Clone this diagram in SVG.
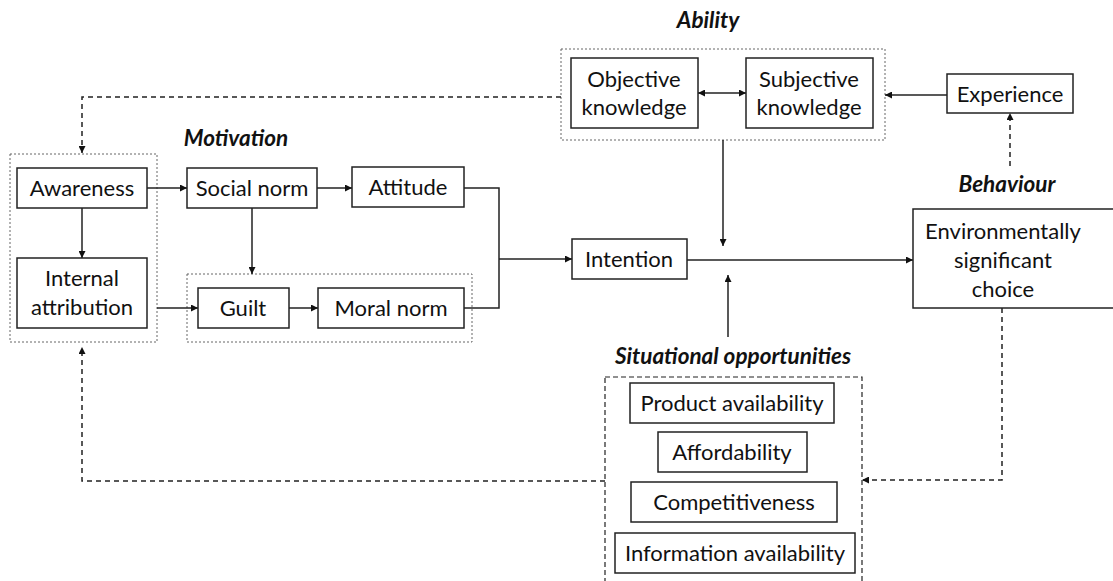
<svg xmlns="http://www.w3.org/2000/svg" width="1113" height="581" viewBox="0 0 1113 581">
  <defs>
    <marker id="arr" viewBox="0 0 10 10" refX="10" refY="5" markerWidth="7" markerHeight="7" markerUnits="userSpaceOnUse" orient="auto-start-reverse">
      <path d="M0,0 L10,5 L0,10 z" fill="#111"/>
    </marker>
    <style>
      .box { fill: #fff; stroke: #222; stroke-width: 1.5; }
      .group { fill: none; stroke: #666; stroke-width: 1; stroke-dasharray: 2 2; }
      .sgroup { fill: none; stroke: #222; stroke-width: 1.2; stroke-dasharray: 5 3; }
      .t { font-family: Lato, "Liberation Sans", sans-serif; font-size: 22px; fill: #111; text-anchor: middle; }
      .h { font-family: Lato, "Liberation Sans", sans-serif; font-size: 22.5px; font-weight: bold; font-style: italic; fill: #111; text-anchor: middle; }
      .line { fill: none; stroke: #222; stroke-width: 1.5; }
      .dash { fill: none; stroke: #222; stroke-width: 1.5; stroke-dasharray: 5 4; }
    </style>
  </defs>
  <rect width="1113" height="581" fill="#fff"/>

  <!-- group frames and headings -->
  <g id="motivation-group">
    <rect class="group" x="10" y="154" width="147" height="188"/>
    <rect class="group" x="187" y="274" width="285" height="68"/>
    <text class="h" x="236" y="146">Motivation</text>
  </g>
  <g id="ability-group">
    <rect class="group" x="561" y="49" width="324" height="91"/>
    <text class="h" x="708" y="28">Ability</text>
  </g>
  <g id="situational-group">
    <rect class="sgroup" x="605" y="377" width="257" height="210"/>
    <text class="h" x="733" y="364">Situational opportunities</text>
  </g>
  <g id="behaviour-heading">
    <text class="h" x="1007" y="192">Behaviour</text>
  </g>

  <!-- connectors -->
  <g id="connectors">
    <line class="line" x1="147" y1="188" x2="187" y2="188" marker-end="url(#arr)"/>
    <line class="line" x1="317" y1="188" x2="352" y2="188" marker-end="url(#arr)"/>
    <line class="line" x1="82" y1="208" x2="82" y2="258" marker-end="url(#arr)"/>
    <line class="line" x1="252" y1="208" x2="252" y2="274" marker-end="url(#arr)"/>
    <line class="line" x1="157" y1="308" x2="198" y2="308" marker-end="url(#arr)"/>
    <line class="line" x1="289" y1="308" x2="318" y2="308" marker-end="url(#arr)"/>
    <polyline class="line" points="464,188 499,188 499,308 464,308"/>
    <line class="line" x1="499" y1="259" x2="572" y2="259" marker-end="url(#arr)"/>
    <line class="line" x1="687" y1="260" x2="913" y2="260" marker-end="url(#arr)"/>
    <line class="line" x1="723" y1="140" x2="723" y2="246" marker-end="url(#arr)"/>
    <line class="line" x1="728" y1="337" x2="728" y2="275" marker-end="url(#arr)"/>
    <line class="line" x1="698" y1="93" x2="746" y2="93" marker-start="url(#arr)" marker-end="url(#arr)"/>
    <line class="line" x1="947" y1="95" x2="885" y2="95" marker-end="url(#arr)"/>
    <line class="dash" x1="1010" y1="166" x2="1010" y2="113" marker-end="url(#arr)"/>
    <polyline class="dash" points="561,97 82,97 82,153" marker-end="url(#arr)"/>
    <polyline class="dash" points="1002,308 1002,480 862,480" marker-end="url(#arr)"/>
    <polyline class="dash" points="605,481 82,481 82,347" marker-end="url(#arr)"/>
  </g>

  <!-- nodes -->
  <g id="awareness">
    <rect class="box" x="17" y="168" width="130" height="40"/>
    <text class="t" x="82" y="196">Awareness</text>
  </g>
  <g id="social-norm">
    <rect class="box" x="187" y="168" width="130" height="40"/>
    <text class="t" x="252" y="196">Social norm</text>
  </g>
  <g id="attitude">
    <rect class="box" x="352" y="167" width="112" height="40"/>
    <text class="t" x="408" y="195">Attitude</text>
  </g>
  <g id="internal-attribution">
    <rect class="box" x="17" y="258" width="130" height="70"/>
    <text class="t" x="82" y="286">Internal</text>
    <text class="t" x="82" y="315">attribution</text>
  </g>
  <g id="guilt">
    <rect class="box" x="198" y="288" width="91" height="40"/>
    <text class="t" x="243" y="316">Guilt</text>
  </g>
  <g id="moral-norm">
    <rect class="box" x="318" y="288" width="146" height="40"/>
    <text class="t" x="391" y="316">Moral norm</text>
  </g>
  <g id="intention">
    <rect class="box" x="572" y="239" width="115" height="40"/>
    <text class="t" x="629" y="267">Intention</text>
  </g>
  <g id="objective-knowledge">
    <rect class="box" x="571" y="58" width="127" height="70"/>
    <text class="t" x="634" y="87">Objective</text>
    <text class="t" x="634" y="115">knowledge</text>
  </g>
  <g id="subjective-knowledge">
    <rect class="box" x="746" y="58" width="127" height="70"/>
    <text class="t" x="809" y="87">Subjective</text>
    <text class="t" x="809" y="115">knowledge</text>
  </g>
  <g id="experience">
    <rect class="box" x="947" y="74" width="126" height="39"/>
    <text class="t" x="1010" y="102">Experience</text>
  </g>
  <g id="choice">
    <rect class="box" x="913" y="209" width="210" height="99"/>
    <text class="t" x="1003" y="239">Environmentally</text>
    <text class="t" x="1003" y="268">significant</text>
    <text class="t" x="1003" y="297">choice</text>
  </g>
  <g id="product-availability">
    <rect class="box" x="630" y="383" width="204" height="40"/>
    <text class="t" x="732" y="411">Product availability</text>
  </g>
  <g id="affordability">
    <rect class="box" x="658" y="432" width="149" height="40"/>
    <text class="t" x="732" y="460">Affordability</text>
  </g>
  <g id="competitiveness">
    <rect class="box" x="631" y="482" width="206" height="40"/>
    <text class="t" x="734" y="510">Competitiveness</text>
  </g>
  <g id="information-availability">
    <rect class="box" x="615" y="533" width="240" height="40"/>
    <text class="t" x="735" y="561">Information availability</text>
  </g>
</svg>
